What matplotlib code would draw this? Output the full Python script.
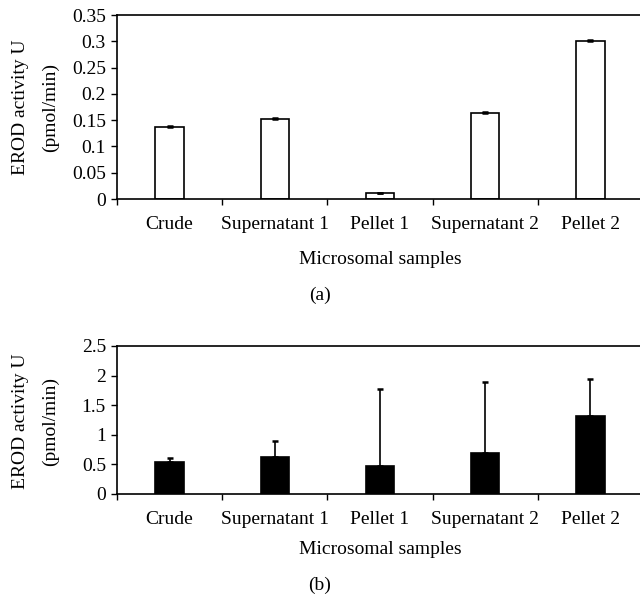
import matplotlib
matplotlib.use("Agg")
import matplotlib.pyplot as plt
import numpy as np

plt.rcParams['font.family'] = ['Liberation Serif', 'DejaVu Serif']

categories = ["Crude", "Supernatant 1", "Pellet 1", "Supernatant 2", "Pellet 2"]
vals_a = [0.137, 0.153, 0.011, 0.164, 0.301]
err_a = [0.002, 0.002, 0.001, 0.002, 0.002]
vals_b = [0.535, 0.63, 0.48, 0.70, 1.31]
err_b = [0.07, 0.26, 1.29, 1.19, 0.63]
yticks_a = [0, 0.05, 0.1, 0.15, 0.2, 0.25, 0.3, 0.35]
ytick_labels_a = ["0", "0.05", "0.1", "0.15", "0.2", "0.25", "0.3", "0.35"]
yticks_b = [0, 0.5, 1, 1.5, 2, 2.5]
ytick_labels_b = ["0", "0.5", "1", "1.5", "2", "2.5"]

W, H = 640, 598
fig = plt.figure(figsize=(W / 100, H / 100), dpi=100)

def ax_rect(left, top, right, bottom):
    return [left / W, 1 - bottom / H, (right - left) / W, (bottom - top) / H]

ax1 = fig.add_axes(ax_rect(117, 15, 643, 199))
ax2 = fig.add_axes(ax_rect(117, 346, 643, 494))

fs = 14

def style(ax, vals, errs, face, yt, ytl, ymax):
    x = np.arange(len(categories))
    ax.bar(x, vals, width=0.27, color=face, edgecolor='black', linewidth=1.2, zorder=2)
    ax.errorbar(x, vals, yerr=[np.zeros(len(errs)), errs], fmt='none', ecolor='black',
                elinewidth=1.2, capsize=2.5, capthick=1.8, zorder=3)
    ax.set_xlim(-0.5, len(categories) - 0.5)
    ax.set_ylim(0, ymax)
    ax.set_yticks(yt)
    ax.set_yticklabels(ytl, fontsize=fs)
    ax.set_xticks(np.arange(len(categories) + 1) - 0.5)
    ax.set_xticklabels([])
    ax.set_xticks(x, minor=True)
    ax.set_xticklabels(categories, minor=True, fontsize=fs)
    ax.tick_params(axis='x', which='minor', length=0, pad=12)
    ax.tick_params(axis='x', which='major', direction='out', length=4, width=1)
    ax.tick_params(axis='y', direction='out', length=4, width=1, pad=4)
    ax.spines['right'].set_visible(False)
    ax.spines['top'].set_visible(False)
    ax.axhline(ymax, color='black', linewidth=1.2, clip_on=False, zorder=1)
    ax.spines['left'].set_linewidth(1.2)
    ax.spines['bottom'].set_linewidth(1.2)

style(ax1, vals_a, err_a, 'white', yticks_a, ytick_labels_a, 0.35)
style(ax2, vals_b, err_b, 'black', yticks_b, ytick_labels_b, 2.5)

for yc in (107, 421):
    fig.text(21 / W, 1 - yc / H, "EROD activity U", rotation=90, ha='center', va='center', fontsize=fs)
    fig.text(50 / W, 1 - yc / H, "(pmol/min)", rotation=90, ha='center', va='center', fontsize=fs)

fig.text(380 / W, 1 - 259 / H, "Microsomal samples", ha='center', va='center', fontsize=fs)
fig.text(320 / W, 1 - 295 / H, "(a)", ha='center', va='center', fontsize=fs)
fig.text(380 / W, 1 - 549 / H, "Microsomal samples", ha='center', va='center', fontsize=fs)
fig.text(320 / W, 1 - 585 / H, "(b)", ha='center', va='center', fontsize=fs)

fig.savefig("out.png", dpi=100)
